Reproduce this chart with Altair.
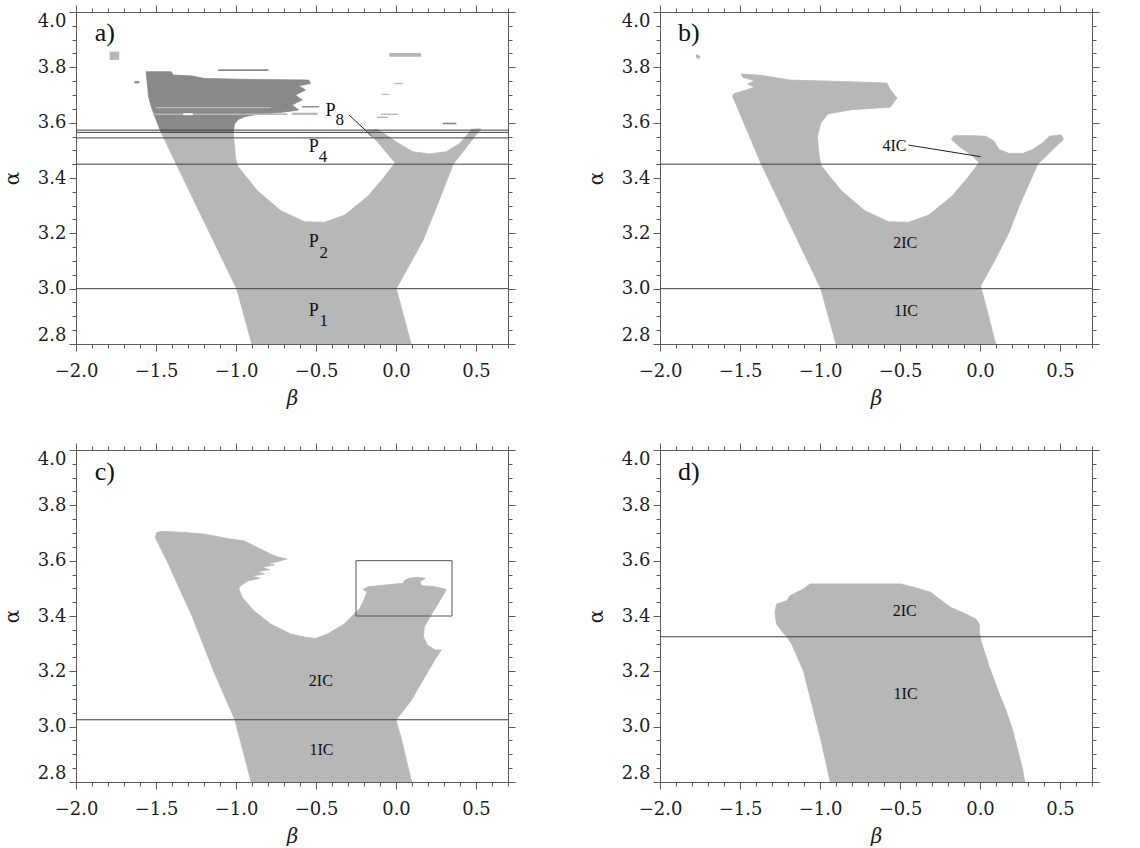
import altair as alt
import pandas as pd

# ---- axes -------------------------------------------------------------
BETA_DOMAIN = [-2.0, 0.7]
ALPHA_DOMAIN = [2.8, 4.0]
BETA_TICKS = [round(-2.0 + 0.1 * k, 1) for k in range(28)]
ALPHA_TICKS = [round(2.8 + 0.05 * k, 2) for k in range(25)]

# ---- panel a: periodic windows P1..P8 ----------------------------------
A_LIGHT = [(-0.901, 2.80), (-0.996, 3.00), (-1.373, 3.45), (-1.468, 3.565),
           (-1.017, 3.565), (-1.005, 3.48), (-0.990, 3.443), (-0.865, 3.353),
           (-0.718, 3.281), (-0.572, 3.242), (-0.446, 3.240), (-0.320, 3.266),
           (-0.174, 3.335), (-0.069, 3.407), (-0.006, 3.455), (-0.090, 3.513),
           (-0.178, 3.573), (-0.120, 3.576), (-0.060, 3.555), (0.000, 3.531),
           (0.105, 3.495), (0.210, 3.487), (0.314, 3.495), (0.398, 3.525),
           (0.450, 3.560), (0.470, 3.576), (0.530, 3.578), (0.357, 3.45),
           (0.270, 3.320), (0.170, 3.176), (0.002, 3.00), (0.094, 2.80)]
A_DARK = [(-1.468, 3.565), (-1.499, 3.610), (-1.530, 3.658), (-1.547, 3.694),
          (-1.551, 3.724), (-1.562, 3.784), (-1.405, 3.784), (-1.394, 3.772),
          (-1.279, 3.769), (-1.195, 3.760), (-0.985, 3.757), (-0.545, 3.754),
          (-0.535, 3.742), (-0.608, 3.733), (-0.566, 3.718), (-0.629, 3.700),
          (-0.587, 3.682), (-0.650, 3.664), (-0.608, 3.646), (-0.734, 3.636),
          (-0.860, 3.631), (-0.943, 3.622), (-0.985, 3.612), (-1.010, 3.595),
          (-1.017, 3.565)]
# scattered strips: beta from, beta to, alpha from, alpha to, shade
A_STRIPS = [(-1.79, -1.73, 3.827, 3.857, "light"),
            (-1.111, -0.797, 3.787, 3.793, "dark"),
            (-1.635, -1.604, 3.742, 3.750, "dark"),
            (-1.50, -0.78, 3.652, 3.657, "light"),
            (-1.52, -0.68, 3.628, 3.633, "light"),
            (-1.33, -1.27, 3.627, 3.634, "white"),
            (-0.65, -0.49, 3.628, 3.636, "light"),
            (-0.587, -0.48, 3.655, 3.660, "dark"),
            (-0.042, 0.157, 3.838, 3.852, "light"),
            (-0.010, 0.042, 3.739, 3.744, "light"),
            (-0.094, 0.011, 3.628, 3.633, "light"),
            (0.293, 0.377, 3.594, 3.600, "dark"),
            (-0.12, -0.05, 3.617, 3.622, "light"),
            (-0.09, -0.04, 3.700, 3.704, "light")]
A_LINES = [3.0, 3.45, 3.545, 3.565, 3.573]
A_LEADER = [(-0.294, 3.628, -0.147, 3.549)]
A_TEXT = [("a)", -1.82, 3.925, 26),
          ("P", -0.409, 3.641, 18), ("8", -0.352, 3.608, 17),
          ("P", -0.514, 3.512, 18), ("4", -0.457, 3.475, 17),
          ("P", -0.514, 3.167, 18), ("2", -0.451, 3.130, 17),
          ("P", -0.514, 2.920, 18), ("1", -0.451, 2.883, 17)]

# ---- panel b: number of coexisting attractors ---------------------------
B_LIGHT = [(-0.900, 2.80), (-0.995, 3.00), (-1.367, 3.45), (-1.546, 3.695),
           (-1.539, 3.704), (-1.409, 3.728), (-1.451, 3.740), (-1.409, 3.752),
           (-1.483, 3.764), (-1.493, 3.776), (-1.368, 3.771), (-1.190, 3.754),
           (-0.865, 3.749), (-0.582, 3.743), (-0.561, 3.719), (-0.519, 3.689),
           (-0.561, 3.656), (-0.802, 3.647), (-0.949, 3.632), (-0.995, 3.599),
           (-1.016, 3.551), (-1.005, 3.479), (-0.991, 3.443), (-0.865, 3.353),
           (-0.718, 3.281), (-0.572, 3.242), (-0.446, 3.240), (-0.320, 3.266),
           (-0.174, 3.335), (-0.069, 3.407), (-0.006, 3.455), (-0.048, 3.481),
           (-0.132, 3.515), (-0.178, 3.539), (-0.163, 3.553), (-0.059, 3.553),
           (0.036, 3.551), (0.088, 3.533), (0.119, 3.503), (0.182, 3.489),
           (0.266, 3.489), (0.329, 3.503), (0.392, 3.527), (0.434, 3.551),
           (0.507, 3.556), (0.521, 3.539), (0.455, 3.503), (0.360, 3.449),
           (0.245, 3.299), (0.182, 3.204), (0.098, 3.108), (0.004, 3.010),
           (0.025, 2.964), (0.098, 2.80)]
B_SPECK = [(-1.772, 3.846), (-1.750, 3.840), (-1.755, 3.831), (-1.774, 3.836)]
B_LINES = [3.0, 3.45]
B_LEADER = [(-0.447, 3.519, 0.004, 3.477)]
B_TEXT = [("b)", -1.82, 3.925, 26), ("4IC", -0.535, 3.515, 16),
          ("2IC", -0.467, 3.166, 16), ("1IC", -0.463, 2.919, 16)]

# ---- panel c ------------------------------------------------------------
C_LIGHT = [(-0.905, 2.80), (-1.007, 3.025), (-1.139, 3.20), (-1.275, 3.40),
           (-1.432, 3.60), (-1.505, 3.684), (-1.494, 3.702), (-1.463, 3.706),
           (-1.327, 3.702), (-1.200, 3.696), (-1.035, 3.678), (-0.951, 3.672),
           (-0.867, 3.648), (-0.784, 3.624), (-0.731, 3.612), (-0.683, 3.606),
           (-0.742, 3.596), (-0.800, 3.590), (-0.760, 3.585), (-0.840, 3.575),
           (-0.790, 3.568), (-0.870, 3.560), (-0.820, 3.552), (-0.900, 3.545),
           (-0.850, 3.536), (-0.920, 3.528), (-0.975, 3.508), (-0.982, 3.498),
           (-0.961, 3.467), (-0.888, 3.419), (-0.784, 3.371), (-0.658, 3.335),
           (-0.564, 3.323), (-0.502, 3.319), (-0.428, 3.335), (-0.324, 3.371),
           (-0.240, 3.419), (-0.225, 3.428), (-0.196, 3.464), (-0.181, 3.488),
           (-0.206, 3.496), (-0.175, 3.506), (0.043, 3.518), (0.053, 3.528),
           (0.082, 3.536), (0.130, 3.540), (0.183, 3.536), (0.149, 3.524),
           (0.160, 3.510), (0.245, 3.506), (0.312, 3.496), (0.302, 3.482),
           (0.264, 3.446), (0.216, 3.400), (0.177, 3.361), (0.171, 3.325),
           (0.196, 3.295), (0.245, 3.277), (0.283, 3.277), (0.240, 3.239),
           (0.178, 3.178), (0.094, 3.094), (0.000, 3.024), (0.031, 2.961),
           (0.098, 2.80)]
C_LINES = [3.025]
C_BOX = [(-0.25, 0.35, 3.40, 3.60)]
C_TEXT = [("c)", -1.82, 3.92, 26), ("2IC", -0.470, 3.164, 16),
          ("1IC", -0.466, 2.917, 16)]

# ---- panel d ------------------------------------------------------------
D_LIGHT = [(-0.936, 2.80), (-0.988, 2.937), (-1.051, 3.082), (-1.104, 3.202),
           (-1.177, 3.299), (-1.208, 3.325), (-1.233, 3.341), (-1.271, 3.371),
           (-1.282, 3.413), (-1.271, 3.443), (-1.208, 3.455), (-1.187, 3.473),
           (-1.104, 3.498), (-1.062, 3.516), (-0.496, 3.516), (-0.413, 3.504),
           (-0.308, 3.486), (-0.266, 3.467), (-0.182, 3.431), (-0.088, 3.407),
           (-0.025, 3.389), (-0.004, 3.371), (-0.004, 3.341), (0.006, 3.311),
           (0.059, 3.214), (0.121, 3.118), (0.163, 3.058), (0.205, 2.986),
           (0.237, 2.913), (0.268, 2.841), (0.279, 2.80)]
D_LINES = [3.325]
D_TEXT = [("d)", -1.82, 3.92, 26), ("2IC", -0.471, 3.418, 16),
          ("1IC", -0.465, 3.117, 16)]

# ---- styling ------------------------------------------------------------
LIGHT = "#b7b7b7"
DARK = "#898989"
FRAME = "#5a5a5a"
SERIF = "DejaVu Serif"
TEXT_FONT = "Liberation Serif"
W, H = 432, 332

X_SCALE = alt.Scale(domain=BETA_DOMAIN, nice=False, zero=False)
Y_SCALE = alt.Scale(domain=ALPHA_DOMAIN, nice=False, zero=False)

X_MAJOR = "abs(datum.value*2 - round(datum.value*2)) < 0.001"
Y_MAJOR = "abs(datum.value*5 - round(datum.value*5)) < 0.001"


def tick_len(test):
    return {"condition": {"test": test, "value": 7}, "value": 4}


def axis(orient, values, test, labels, title=None, **kw):
    opts = dict(orient=orient, values=values, tickSize=tick_len(test),
                grid=False, domainColor=FRAME, tickColor=FRAME,
                domainWidth=1, tickWidth=1, labels=labels,
                labelOverlap=False, labelBound=False, title=title)
    if labels:
        opts.update(labelExpr=f"{test} ? format(datum.value, '.1f') : ''",
                    labelFont=SERIF, labelFontSize=18, labelColor="#1e1e1e")
    opts.update(kw)
    return alt.Axis(**opts)


X_BOTTOM = axis("bottom", BETA_TICKS, X_MAJOR, True, "β", labelPadding=11,
                labelFlush=False, titleFont=SERIF, titleFontSize=20,
                titleFontStyle="italic", titleFontWeight="normal",
                titleColor="#1e1e1e", titlePadding=8)
Y_LEFT = axis("left", ALPHA_TICKS, Y_MAJOR, True, "α", labelPadding=3,
              labelFlush=True, titleFont=SERIF, titleFontSize=20,
              titleFontWeight="normal", titleColor="#1e1e1e", titlePadding=15)
X_TOP = axis("top", BETA_TICKS, X_MAJOR, False)
Y_RIGHT = axis("right", ALPHA_TICKS, Y_MAJOR, False)


def outline(polys):
    rows = []
    for pid, pts in enumerate(polys):
        for i, (b, a) in enumerate(pts):
            rows.append({"poly": pid, "i": i, "beta": b, "alpha": a})
    return pd.DataFrame(rows)


def filled(polys, color, with_axes=False):
    return alt.Chart(outline(polys)).mark_line(
        fill=color, stroke=color, strokeWidth=0.8,
        interpolate="linear-closed", clip=True
    ).encode(
        x=alt.X("beta:Q", scale=X_SCALE, axis=X_BOTTOM if with_axes else None),
        y=alt.Y("alpha:Q", scale=Y_SCALE, axis=Y_LEFT if with_axes else None),
        detail="poly:N",
        order="i:Q",
    )


def strips(rows):
    df = pd.DataFrame(rows, columns=["b0", "b1", "a0", "a1", "shade"])
    return alt.Chart(df).mark_rect(clip=True).encode(
        x=alt.X("b0:Q", scale=X_SCALE, axis=None), x2="b1:Q",
        y=alt.Y("a0:Q", scale=Y_SCALE, axis=None), y2="a1:Q",
        color=alt.Color("shade:N", legend=None,
                        scale=alt.Scale(domain=["light", "dark", "white"],
                                        range=[LIGHT, DARK, "#ffffff"])),
    )


def hlines(values):
    df = pd.DataFrame({"alpha": values})
    return alt.Chart(df).mark_rule(color="#404040", strokeWidth=1).encode(
        y=alt.Y("alpha:Q", scale=Y_SCALE, axis=None))


def segments(rows):
    df = pd.DataFrame(rows, columns=["b0", "a0", "b1", "a1"])
    return alt.Chart(df).mark_rule(color="#202020", strokeWidth=1).encode(
        x=alt.X("b0:Q", scale=X_SCALE, axis=None), x2="b1:Q",
        y=alt.Y("a0:Q", scale=Y_SCALE, axis=None), y2="a1:Q")


def box(rows):
    df = pd.DataFrame(rows, columns=["b0", "b1", "a0", "a1"])
    return alt.Chart(df).mark_rect(fillOpacity=0, stroke="#555555",
                                   strokeWidth=1).encode(
        x=alt.X("b0:Q", scale=X_SCALE, axis=None), x2="b1:Q",
        y=alt.Y("a0:Q", scale=Y_SCALE, axis=None), y2="a1:Q")


def texts(rows):
    df = pd.DataFrame(rows, columns=["label", "beta", "alpha", "size"])
    return alt.Chart(df).mark_text(font=TEXT_FONT, color="#111111",
                                   align="center", baseline="middle").encode(
        x=alt.X("beta:Q", scale=X_SCALE, axis=X_TOP),
        y=alt.Y("alpha:Q", scale=Y_SCALE, axis=Y_RIGHT),
        text="label:N",
        size=alt.Size("size:Q", scale=None),
    )


def panel(layers):
    return alt.layer(*layers).resolve_axis(
        x="independent", y="independent").properties(width=W, height=H)


panel_a = panel([filled([A_LIGHT], LIGHT, True), filled([A_DARK], DARK),
                 strips(A_STRIPS), hlines(A_LINES), segments(A_LEADER),
                 texts(A_TEXT)])
panel_b = panel([filled([B_LIGHT, B_SPECK], LIGHT, True), hlines(B_LINES),
                 segments(B_LEADER), texts(B_TEXT)])
panel_c = panel([filled([C_LIGHT], LIGHT, True), hlines(C_LINES), box(C_BOX),
                 texts(C_TEXT)])
panel_d = panel([filled([D_LIGHT], LIGHT, True), hlines(D_LINES),
                 texts(D_TEXT)])

chart = alt.concat(
    panel_a, panel_b, panel_c, panel_d,
    columns=2, spacing={"row": 106, "column": 152}, bounds="flush",
).properties(
    padding={"left": 2, "top": 4, "right": 0, "bottom": 0},
    background="white",
).configure_view(strokeWidth=0)

chart.save("out.html", embed_options={"renderer": "svg", "actions": False})
